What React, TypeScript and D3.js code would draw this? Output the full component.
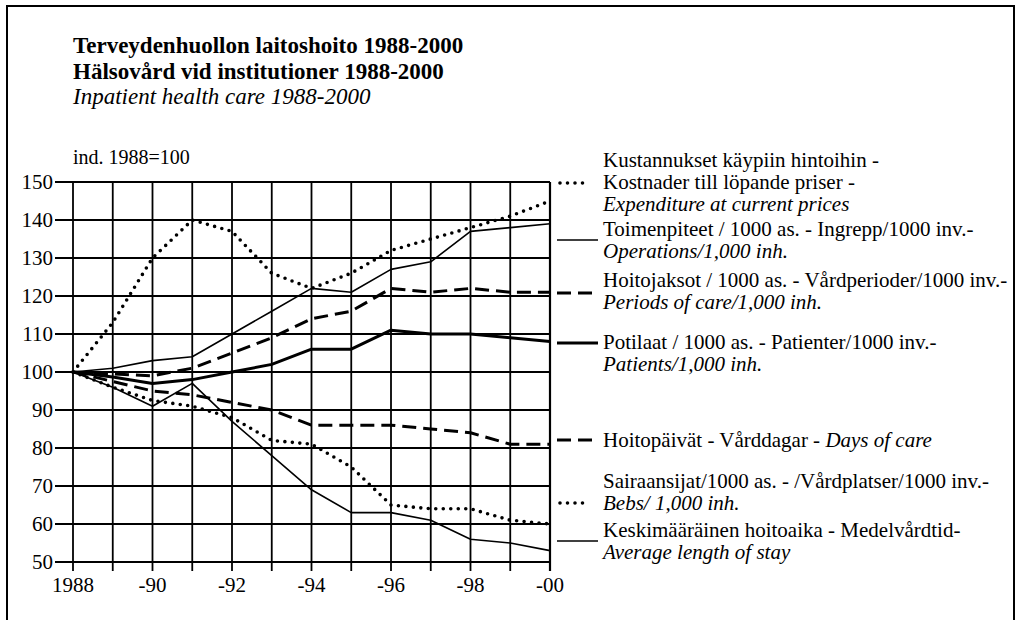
import React from 'react';
import * as d3 from 'd3';

const years = [1988, 1989, 1990, 1991, 1992, 1993, 1994, 1995, 1996, 1997, 1998, 1999, 2000];
const xTickLabels = [
  { year: 1988, label: '1988' },
  { year: 1990, label: '-90' },
  { year: 1992, label: '-92' },
  { year: 1994, label: '-94' },
  { year: 1996, label: '-96' },
  { year: 1998, label: '-98' },
  { year: 2000, label: '-00' },
];
const yTicks = [50, 60, 70, 80, 90, 100, 110, 120, 130, 140, 150];

const expenditure = [100, 113, 130, 140, 137, 126, 122, 126, 132, 135, 138, 141, 145];
const operations = [100, 101, 103, 104, 110, 116, 122, 121, 127, 129, 137, 138, 139];
const periodsOfCare = [100, 99.5, 99, 101, 105, 109, 114, 116, 122, 121, 122, 121, 121];
const patients = [100, 98.7, 97, 98, 100, 102, 106, 106, 111, 110, 110, 109, 108];
const daysOfCare = [100, 97.5, 95, 94, 92, 90, 86, 86, 86, 85, 84, 81, 81];
const beds = [100, 96, 92.5, 91, 88, 82, 81, 75, 65, 64, 64, 61, 60];
const avgStay = [100, 96, 91, 97, 87, 78, 69, 63, 63, 61, 56, 55, 53];

const titleLines = [
  'Terveydenhuollon laitoshoito 1988-2000',
  'Hälsovård vid institutioner 1988-2000',
];
const subtitle = 'Inpatient health care 1988-2000';
const unitLabel = 'ind. 1988=100';

const font = "'Liberation Serif', 'DejaVu Serif', 'Times New Roman', serif";

const styles: Record<string, { width: number; dash?: string; cap?: string }> = {
  dotted: { width: 3.6, dash: '0 7.5', cap: 'round' },
  thin: { width: 1.6 },
  dashed: { width: 3, dash: '14 7' },
  thick: { width: 3 },
};

const series = [
  { values: expenditure, style: 'dotted' },
  { values: operations, style: 'thin' },
  { values: periodsOfCare, style: 'dashed' },
  { values: patients, style: 'thick' },
  { values: daysOfCare, style: 'dashed' },
  { values: beds, style: 'dotted' },
  { values: avgStay, style: 'thin' },
];

// legend: text lines [text, italic, baseline, italic tail], swatch y
const legend = [
  {
    style: 'dotted', sy: 183,
    lines: [
      ['Kustannukset käypiin hintoihin -', false, 167],
      ['Kostnader till löpande priser -', false, 189],
      ['Expenditure at current prices', true, 211],
    ],
  },
  {
    style: 'thin', sy: 240,
    lines: [
      ['Toimenpiteet / 1000 as. - Ingrepp/1000 inv.-', false, 236],
      ['Operations/1,000 inh.', true, 258],
    ],
  },
  {
    style: 'dashed', sy: 293,
    lines: [
      ['Hoitojaksot / 1000 as. - Vårdperioder/1000 inv.-', false, 287],
      ['Periods of care/1,000 inh.', true, 309],
    ],
  },
  {
    style: 'thick', sy: 343,
    lines: [
      ['Potilaat / 1000 as. - Patienter/1000 inv.-', false, 349],
      ['Patients/1,000 inh.', true, 371],
    ],
  },
  {
    style: 'dashed', sy: 440,
    lines: [['Hoitopäivät - Vårddagar - ', false, 447, 'Days of care']],
  },
  {
    style: 'dotted', sy: 503,
    lines: [
      ['Sairaansijat/1000 as. - /Vårdplatser/1000 inv.-', false, 488],
      ['Bebs/ 1,000 inh.', true, 510],
    ],
  },
  {
    style: 'thin', sy: 541,
    lines: [
      ['Keskimääräinen hoitoaika - Medelvårdtid-', false, 537],
      ['Average length of stay', true, 559],
    ],
  },
];

export default function App() {
  const x = d3.scaleLinear().domain([1988, 2000]).range([73, 550]);
  const y = d3.scaleLinear().domain([50, 150]).range([562, 182]);

  const line = d3
    .line<number>()
    .x((d, i) => x(years[i]))
    .y((d) => y(d));

  return (
    <svg
      width={1016}
      height={620}
      style={{ position: 'absolute', left: 0, top: 0, background: '#fff', fontFamily: font }}
    >
      <path d="M7,640V6H1014V640" fill="none" stroke="#000" strokeWidth={2} />

      {titleLines.map((t, i) => (
        <text key={t} x={73} y={53 + i * 25.5} fontSize={23} fontWeight="bold">
          {t}
        </text>
      ))}
      <text x={73} y={104} fontSize={23} fontStyle="italic">
        {subtitle}
      </text>
      <text x={73} y={164} fontSize={20}>
        {unitLabel}
      </text>

      {/* grid */}
      {yTicks.map((v) => (
        <g key={v}>
          <line x1={55} x2={550} y1={y(v)} y2={y(v)} stroke="#000" strokeWidth={1.8} />
          <text x={53} y={y(v) + 7} fontSize={21} textAnchor="end">
            {v}
          </text>
        </g>
      ))}
      {years.map((yr) => (
        <line
          key={yr}
          x1={x(yr)}
          x2={x(yr)}
          y1={y(150)}
          y2={y(50) + 9}
          stroke="#000"
          strokeWidth={yr === 2000 ? 2.2 : 1.8}
        />
      ))}
      {xTickLabels.map((t) => (
        <text key={t.year} x={x(t.year)} y={592} fontSize={21} textAnchor="middle">
          {t.label}
        </text>
      ))}

      {/* series */}
      {series.map((s, i) => {
        const st = styles[s.style];
        return (
          <path
            key={i}
            d={line(s.values) || ''}
            fill="none"
            stroke="#000"
            strokeWidth={st.width}
            strokeDasharray={st.dash}
            strokeLinecap={(st.cap as any) || 'butt'}
            strokeLinejoin="round"
          />
        );
      })}

      {/* legend */}
      {legend.map((l, i) => {
        const st = styles[l.style];
        const x1 = l.style === 'dotted' ? 560 : 557;
        const x2 = l.style === 'dotted' ? 590 : 598;
        return (
          <g key={i}>
            <line
              x1={x1}
              x2={x2}
              y1={l.sy}
              y2={l.sy}
              stroke="#000"
              strokeWidth={st.width}
              strokeDasharray={st.dash}
              strokeLinecap={(st.cap as any) || 'butt'}
            />
            {l.lines.map((ln: any[], j) => (
              <text
                key={j}
                x={603}
                y={ln[2]}
                fontSize={21}
                fontStyle={ln[1] ? 'italic' : 'normal'}
              >
                {ln[0]}
                {ln[3] ? <tspan fontStyle="italic">{ln[3]}</tspan> : null}
              </text>
            ))}
          </g>
        );
      })}
    </svg>
  );
}
